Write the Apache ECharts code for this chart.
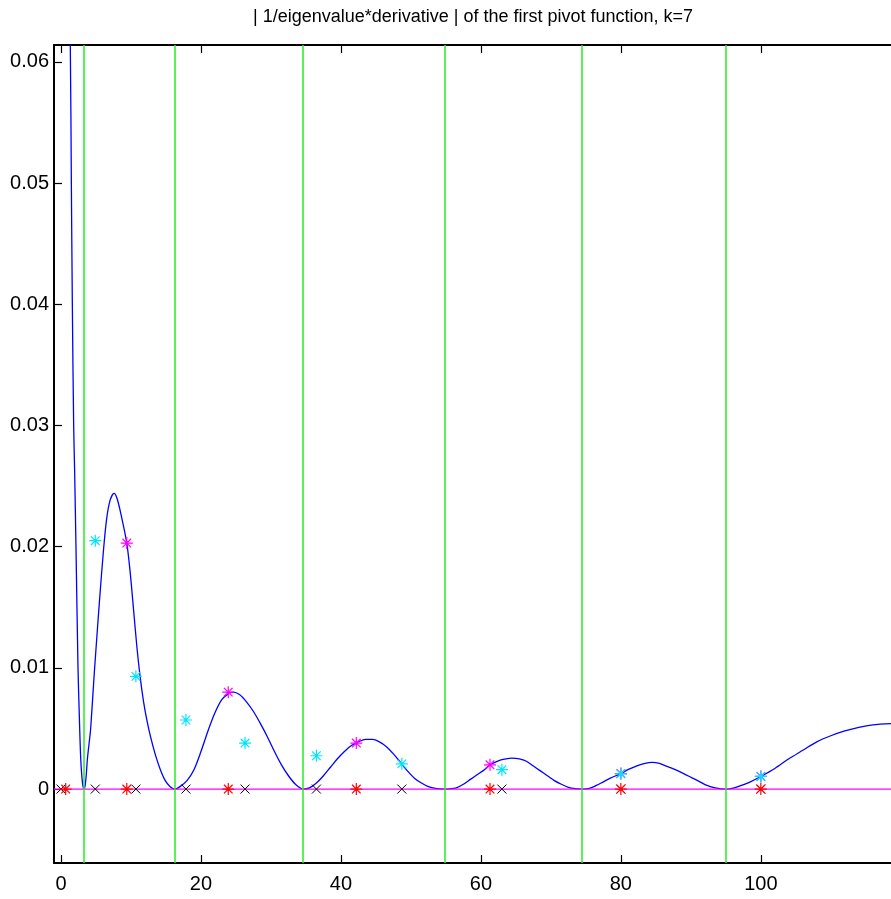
<!DOCTYPE html>
<html>
<head>
<meta charset="utf-8">
<script src="https://cdn.jsdelivr.net/npm/echarts@6/dist/echarts.min.js"></script>
<style>
  html, body { margin: 0; padding: 0; background: #ffffff; }
  #chart { width: 891px; height: 899px; }
</style>
</head>
<body>
<div id="chart"></div>
<script>
// Axis ticks
const xTicks = [0, 20, 40, 60, 80, 100];
const yTicks = [0, 0.01, 0.02, 0.03, 0.04, 0.05, 0.06];

// |1/eigenvalue * derivative| of the first pivot function
const curveX = [0.9, 1.33, 1.48, 1.62, 1.81, 1.95, 2.14, 2.43, 2.62, 2.81, 3.0, 3.15, 3.29,
  3.45, 3.6, 3.76, 4.0, 4.24, 4.76, 5.47, 6.04, 6.5, 7.0, 7.57, 8.0, 8.6, 9.4,
  9.9, 10.4, 10.85, 11.3, 11.8, 12.3, 12.8, 13.5, 14.2, 14.9, 15.6, 16.3,
  17.0, 18.0, 19.0, 20.0, 21.0, 22.0, 23.0, 24.0, 24.6, 25.5, 26.5, 27.5, 28.5, 29.5, 30.5, 31.5, 32.5, 33.5, 34.6,
  35.5, 36.5, 37.5, 38.5, 39.5, 40.5, 41.5, 42.5, 43.5, 44.5, 45.5, 46.5, 47.5, 48.5, 49.5, 50.5, 51.5, 52.5, 53.5, 54.8,
  55.5, 56.5, 57.5, 58.5, 59.5, 60.5, 61.3, 62.0, 63.0, 64.4, 65.5, 66.5, 67.5, 68.5, 69.5, 70.5, 71.5, 72.5, 73.5, 74.4,
  75.5, 76.5, 77.5, 78.5, 80.0, 81.0, 82.2, 83.3, 84.5, 85.5, 86.5, 87.7, 88.9, 90.1, 91.3, 92.3, 93.5, 95.0,
  96.2, 97.2, 98.5, 100.0, 102.0, 104.0, 106.0, 108.0, 110.0, 112.0, 114.0, 116.0, 118.6];
const curveY = [0.076, 0.0614, 0.050, 0.040, 0.030, 0.0262, 0.020, 0.0100, 0.0060, 0.0026, 0.0009, 0.0002, 0,
  0.0003, 0.0011, 0.0024, 0.0037, 0.0050, 0.0096, 0.0153, 0.0195, 0.0222, 0.0238, 0.0244, 0.0240, 0.0226, 0.0203,
  0.0178, 0.0146, 0.0117, 0.0093, 0.0072, 0.0056, 0.0043, 0.0028, 0.0016, 0.0007, 0.0002, 0,
  0.0002, 0.0007, 0.0016, 0.0031, 0.0048, 0.0063, 0.0074, 0.0079, 0.0080, 0.0078, 0.0072, 0.0064, 0.0054, 0.0043, 0.0031, 0.0020, 0.0011, 0.0004, 0,
  0.0001, 0.0005, 0.0011, 0.0018, 0.0025, 0.0031, 0.0036, 0.0039, 0.0041, 0.0041, 0.0039, 0.0035, 0.0029, 0.0022, 0.0015, 0.0009, 0.0005, 0.0002, 0.00005, 0,
  0.00002, 0.0001, 0.0004, 0.0008, 0.0012, 0.0016, 0.0020, 0.0022, 0.00243, 0.00256, 0.0025, 0.0023, 0.0019, 0.0015, 0.0011, 0.0007, 0.0004, 0.00015, 0.00003, 0,
  0.00005, 0.0003, 0.0006, 0.0009, 0.00128, 0.0016, 0.0019, 0.0021, 0.0022, 0.00212, 0.0019, 0.00162, 0.0013, 0.00095, 0.0006, 0.0003, 0.0001, 0,
  0.0001, 0.0003, 0.0006, 0.00104, 0.0017, 0.0025, 0.0032, 0.0039, 0.0044, 0.0048, 0.0051, 0.0053, 0.0054];

// Zeros of the derivative (vertical green lines)
const zeroX = [3.3, 16.3, 34.6, 54.8, 74.4, 95.0];

// Pivot nodes on the axis (red asterisks)
const pivotX = [0.67, 9.4, 23.9, 42.2, 61.3, 80, 100];
// Interpolation nodes on the axis (black crosses)
const nodeX = [0, 4.9, 10.7, 17.85, 26.3, 36.5, 48.7, 63.0, 80, 100];
// Curve values at the pivot nodes (magenta asterisks)
const pivotValX = [9.4, 23.9, 42.2, 61.3, 80, 100];
const pivotValY = [0.0203, 0.0080, 0.0038, 0.0020, 0.00128, 0.00104];
// Estimates at the interpolation nodes (cyan asterisks)
const nodeValX = [4.9, 10.7, 17.85, 26.3, 36.5, 48.7, 63.0, 80, 100];
const nodeValY = [0.0205, 0.0093, 0.0057, 0.0038, 0.00275, 0.00208, 0.0016, 0.00126, 0.00104];

const titleText = '| 1/eigenvalue*derivative | of the first pivot function, k=7';

const X_MIN = -1, X_MAX = 118.6, Y_MIN = -0.0061, Y_MAX = 0.0614;

const STAR = 'path://M0,-1L0,1M-1,0L1,0M-0.72,-0.72L0.72,0.72M-0.72,0.72L0.72,-0.72';
const CROSS = 'path://M-1,-1L1,1M-1,1L1,-1';

const FONT = "'Liberation Sans', Arial, Helvetica, sans-serif";

function pairs(xs, ys) { return xs.map((x, i) => [x, ys[i]]); }
function onAxis(xs) { return xs.map(x => [x, 0]); }

function markerSeries(name, data, symbol, size, color, width) {
  return {
    name, type: 'scatter', data, symbol, symbolSize: size,
    itemStyle: { color: 'none', borderColor: color, borderWidth: width, opacity: 1 },
    emphasis: { disabled: true }, silent: true, z: 5
  };
}

const chart = echarts.init(document.getElementById('chart'), null, { renderer: 'canvas' });

chart.setOption({
  animation: false,
  backgroundColor: '#ffffff',
  graphic: [{
    type: 'text', x: 473, y: 17,
    style: {
      text: titleText, fill: '#000', font: '18px ' + FONT,
      textAlign: 'center', textVerticalAlign: 'middle'
    }
  }],
  grid: { left: 54, top: 45, width: 837, height: 818, containLabel: false },
  xAxis: [{
    type: 'value', min: X_MIN, max: X_MAX, position: 'bottom',
    axisLine: { show: true, onZero: false, lineStyle: { color: '#000', width: 2 } },
    axisTick: { show: true, inside: true, length: 8, customValues: xTicks, lineStyle: { color: '#000', width: 1.2 } },
    axisLabel: { show: true, customValues: xTicks, margin: 11, color: '#000', fontSize: 20, fontFamily: FONT },
    splitLine: { show: false }
  }, {
    type: 'value', min: X_MIN, max: X_MAX, position: 'top',
    axisLine: { show: true, onZero: false, lineStyle: { color: '#000', width: 2 } },
    axisTick: { show: true, inside: true, length: 8, customValues: xTicks, lineStyle: { color: '#000', width: 1.2 } },
    axisLabel: { show: false },
    splitLine: { show: false }
  }],
  yAxis: [{
    type: 'value', min: Y_MIN, max: Y_MAX, position: 'left',
    axisLine: { show: true, onZero: false, lineStyle: { color: '#000', width: 2 } },
    axisTick: { show: true, inside: true, length: 8, customValues: yTicks, lineStyle: { color: '#000', width: 1.2 } },
    axisLabel: {
      show: true, customValues: yTicks, margin: 5, color: '#000', fontSize: 20, fontFamily: FONT,
      formatter: v => (v === 0 ? '0' : String(+v.toFixed(2)))
    },
    splitLine: { show: false }
  }],
  series: [
    {
      name: 'zeros', type: 'line', data: [], silent: true, z: 1,
      markLine: {
        symbol: 'none', silent: true, animation: false,
        label: { show: false },
        lineStyle: { color: '#22ee22', width: 1.5, type: 'solid' },
        emphasis: { disabled: true },
        data: zeroX.map(v => ({ xAxis: v }))
      }
    },
    {
      name: 'derivative', type: 'line', data: pairs(curveX, curveY),
      showSymbol: false, smooth: 0.3, clip: true, z: 2,
      lineStyle: { color: '#0000ff', width: 1.3 }, emphasis: { disabled: true }, silent: true
    },
    {
      name: 'zero line', type: 'line', data: [[X_MIN, 0], [X_MAX, 0]],
      showSymbol: false, z: 3,
      lineStyle: { color: '#ff00ff', width: 1.3 }, emphasis: { disabled: true }, silent: true
    },
    markerSeries('nodes', onAxis(nodeX), CROSS, 9, '#000000', 1),
    markerSeries('pivots', onAxis(pivotX), STAR, 12, '#ff0000', 1.2),
    markerSeries('pivot values', pairs(pivotValX, pivotValY), STAR, 12, '#ff00ff', 1.2),
    markerSeries('node values', pairs(nodeValX, nodeValY), STAR, 12, '#00e5ff', 1.2)
  ]
});
</script>
</body>
</html>
